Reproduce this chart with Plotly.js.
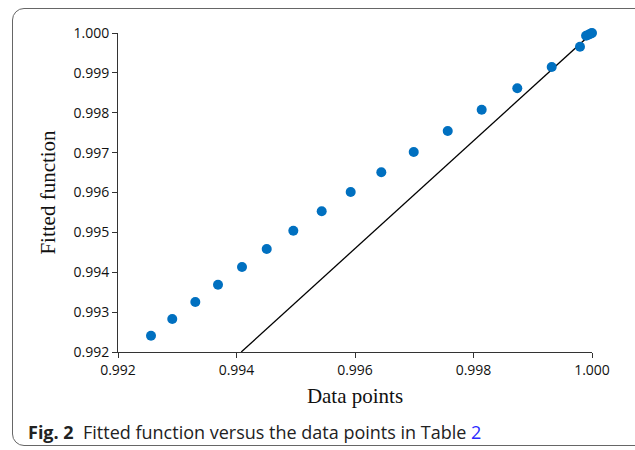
<!DOCTYPE html>
<html>
<head>
<meta charset="utf-8">
<script src="https://cdn.plot.ly/plotly-3.0.1.min.js"></script>
<style>
html,body{margin:0;padding:0;background:#fff;}
#wrap{position:relative;width:635px;height:450px;overflow:hidden;}
#frame{position:absolute;left:12px;top:8px;width:640px;height:438px;border:1.5px solid #666;border-radius:12px;box-sizing:border-box;}
#chart{position:absolute;left:0;top:0;width:635px;height:450px;}
</style>
</head>
<body>
<div id="wrap"><div id="frame"></div><div id="chart"></div></div>
<script>
// Data
var dataX = [0.992557, 0.992916, 0.993305, 0.993688, 0.994093, 0.994510, 0.994959,
             0.995438, 0.995927, 0.996444, 0.996991, 0.997565, 0.998138, 0.998739,
             0.999320, 0.999797, 0.999900, 0.999950, 0.999985, 1.000000];
var fittedY = [0.992409, 0.992828, 0.993254, 0.993688, 0.994132, 0.994583, 0.995042,
               0.995528, 0.996013, 0.996507, 0.997016, 0.997542, 0.998077, 0.998613,
               0.999147, 0.999656, 0.999930, 0.999965, 0.999990, 1.000000];
var lineX = [0.99408, 1.000];
var lineY = [0.992, 1.000];
var xTicks = [0.992, 0.994, 0.996, 0.998, 1.000];
var xTickText = ["0.992", "0.994", "0.996", "0.998", "1.000"];
var yTicks = [0.992, 0.993, 0.994, 0.995, 0.996, 0.997, 0.998, 0.999, 1.000];
var yTickText = ["0.992", "0.993", "0.994", "0.995", "0.996", "0.997", "0.998", "0.999", "1.000"];

var traces = [
  {x: lineX, y: lineY, mode: 'lines', type: 'scatter',
   line: {color: '#000000', width: 1.3}, hoverinfo: 'skip', cliponaxis: false},
  {x: dataX, y: fittedY, mode: 'markers', type: 'scatter',
   marker: {color: '#0070C0', size: 10}, cliponaxis: false}
];

var axisFont = {family: 'Open Sans, sans-serif', size: 14, color: '#111'};
var layout = {
  width: 635, height: 450,
  paper_bgcolor: 'rgba(0,0,0,0)', plot_bgcolor: 'rgba(0,0,0,0)',
  showlegend: false,
  margin: {l: 118, r: 43, t: 33, b: 98},
  xaxis: {
    range: [0.992, 1.000], tickvals: xTicks, ticktext: xTickText,
    showgrid: false, zeroline: false, showline: true, linecolor: '#333', linewidth: 1,
    ticks: 'outside', ticklen: 5, tickcolor: '#333', tickfont: axisFont,
    title: {text: 'Data points', standoff: 10,
            font: {family: 'Liberation Serif, serif', size: 21, color: '#111'}}
  },
  yaxis: {
    range: [0.992, 1.000], tickvals: yTicks, ticktext: yTickText,
    showgrid: false, zeroline: false, showline: true, linecolor: '#333', linewidth: 1,
    ticks: 'outside', ticklen: 5, tickcolor: '#333', tickfont: axisFont,
    title: {text: 'Fitted function', standoff: 12,
            font: {family: 'Liberation Serif, serif', size: 21, color: '#111'}}
  },
  annotations: [{
    xref: 'paper', yref: 'paper', x: -0.194, y: -0.25, xanchor: 'left', yanchor: 'middle',
    showarrow: false, align: 'left',
    text: '<b>Fig. 2</b>  Fitted function versus the data points in Table <span style="color:#2a2aff">2</span>',
    font: {family: 'Open Sans, sans-serif', size: 18, color: '#222'}
  }]
};
Plotly.newPlot('chart', traces, layout, {displayModeBar: false, staticPlot: true});
</script>
</body>
</html>
